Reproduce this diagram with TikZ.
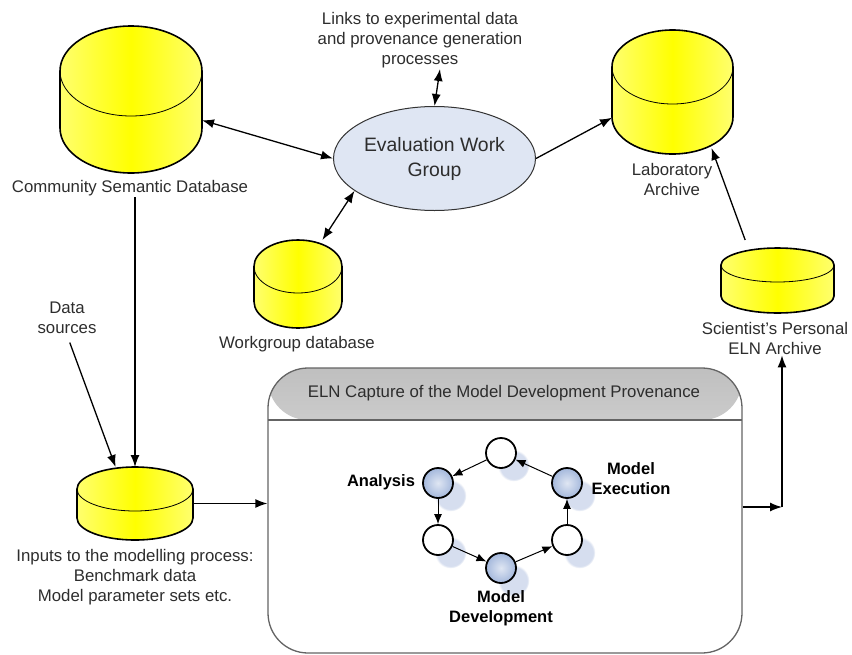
\documentclass[tikz,border=0pt]{standalone}
\usepackage{fontspec}
\setmainfont{Liberation Sans}
\usetikzlibrary{shapes.geometric,arrows.meta,shadows}

\definecolor{dbyellow}{RGB}{255,255,0}
\definecolor{dbside}{RGB}{255,255,110}
\definecolor{groupblue}{RGB}{223,230,243}
\definecolor{stageblue}{RGB}{164,184,220}
\definecolor{shadowblue}{RGB}{214,222,239}
\definecolor{textgrey}{RGB}{45,45,45}
\definecolor{boxgrey}{RGB}{100,100,100}

\begin{document}
\begin{tikzpicture}
  [x=1pt,y=-1pt,font=\fontsize{16.8}{20}\selectfont,
   db/.style n args={3}{rectangle,inner sep=0pt,outer sep=0pt,
     minimum width={2*#1},minimum height={#3},
     append after command={\pgfextra{
       \draw[line width=1.6pt,left color=dbside,right color=dbside,middle color=dbyellow]
         ([yshift=-#2pt]\tikzlastnode.north west) -- ([yshift=#2pt]\tikzlastnode.south west)
         arc[start angle=180,end angle=360,x radius=#1pt,y radius=#2pt]
         -- ([yshift=-#2pt]\tikzlastnode.north east)
         arc[start angle=0,end angle=180,x radius=#1pt,y radius=#2pt] -- cycle;
       \draw[line width=0.8pt] ([yshift=-#2pt]\tikzlastnode.north west)
         arc[start angle=180,end angle=360,x radius=#1pt,y radius=#2pt];}}},
   lbl/.style={align=center,text=textgrey,inner sep=1pt},
   stagelbl/.style={align=center,font=\fontsize{16.5}{20}\selectfont\bfseries,inner sep=1pt},
   arr/.style={-{Latex[length=12pt,width=9pt]},line width=1.3pt},
   biarr/.style={{Latex[length=12pt,width=9pt]}-{Latex[length=12pt,width=9pt]},line width=1.3pt},
   cyc/.style={-{Latex[length=10pt,width=8pt]},line width=1pt},
   stage/.style={circle,draw,line width=1.8pt,minimum size=30pt,inner sep=0pt,
     circular drop shadow={shadow xshift=12pt,shadow yshift=-12pt,
       shadow scale=1.05,fill=shadowblue,opacity=1}},
   busy/.style={stage,inner color=stageblue!35,outer color=stageblue},
   idle/.style={stage,fill=white}]

  \useasboundingbox (0,0) rectangle (852,654);

  % databases
  \node[db={71}{45}{147}] (csd) at (131,99.5) {};
  \node[db={60.5}{37}{124}] (lab) at (672.5,92) {};
  \node[db={44}{26.5}{88}] (wg) at (298,284) {};
  \node[db={56.5}{17}{65}] (sci) at (777.5,280.5) {};
  \node[db={58}{22}{73}] (inp) at (135,503.5) {};

  \node[lbl] (csdlbl) at (130,188) {Community Semantic Database};
  \node[lbl] (lablbl) at (672,179) {Laboratory\\Archive};
  \node[lbl] (wglbl) at (297,344) {Workgroup database};
  \node[lbl] (scilbl) at (775,338) {Scientist's Personal\\ELN Archive};
  \node[lbl] (inplbl) at (135,577) {Inputs to the modelling process:\\Benchmark data\\Model parameter sets etc.};
  \node[lbl] (dsrc) at (67,318) {Data\\sources};
  \node[lbl] (links) at (420,40) {Links to experimental data\\and provenance generation\\processes};

  \node[ellipse,draw=black!80,line width=1pt,fill=groupblue,minimum width=202pt,
    minimum height=104pt,inner sep=0pt,align=center,text=textgrey,
    font=\fontsize{19.4}{25}\selectfont] (ewg) at (434.5,158.5) {Evaluation Work\\Group};

  % ELN capture box
  \node[draw=boxgrey,line width=1.3pt,fill=white,rounded corners=40pt,
    minimum width=474pt,minimum height=285pt,
    path picture={
      \fill[top color=black!25,bottom color=white] (path picture bounding box.north west)
        rectangle ([yshift=-52pt]path picture bounding box.north east);
      \draw[boxgrey,line width=1.3pt] ([yshift=-52pt]path picture bounding box.north west)
        -- ([yshift=-52pt]path picture bounding box.north east);}] (eln) at (505,510.5) {};
  \node[lbl] (elntitle) at (504,393) {ELN Capture of the Model Development Provenance};

  \node[idle] (s1) at (501,453) {};
  \node[busy] (s2) at (438,483) {};
  \node[idle] (s3) at (438,540) {};
  \node[busy] (s4) at (501,568) {};
  \node[idle] (s5) at (567,540) {};
  \node[busy] (s6) at (567,483) {};
  \node[stagelbl] (analbl) at (381,482) {Analysis};
  \node[stagelbl] (exelbl) at (631,479) {Model\\Execution};
  \node[stagelbl] (devlbl) at (501,608) {Model\\Development};
  \foreach \from/\to in {s1/s2,s2/s3,s3/s4,s4/s5,s5/s6,s6/s1}
    \draw[cyc] (\from) -- (\to);

  % connectors
  \coordinate (bend) at (782,507);
  \draw[biarr] (csd) -- (ewg.west);
  \draw[biarr] (wg.61) -- (ewg.202);
  \draw[biarr] ([xshift=20pt]links.south) -- (ewg.north);
  \draw[arr] (ewg.east) -- (lab.203);
  \draw[arr] ([shift={(-6pt,8pt)}]sci.129) -- ([xshift=39pt,yshift=6pt]lab.south);
  \draw[arr] (csdlbl.south -| inp.north) -- (inp.north);
  \draw[arr,shorten <=8pt] (dsrc.south) -- (inp.118);
  \draw[arr] (inp.east) -- (inp.east -| eln.west);
  \draw[arr] (eln.east |- bend) -- (bend);
  \draw[arr] (bend) -- (bend |- scilbl.south);
\end{tikzpicture}
\end{document}
